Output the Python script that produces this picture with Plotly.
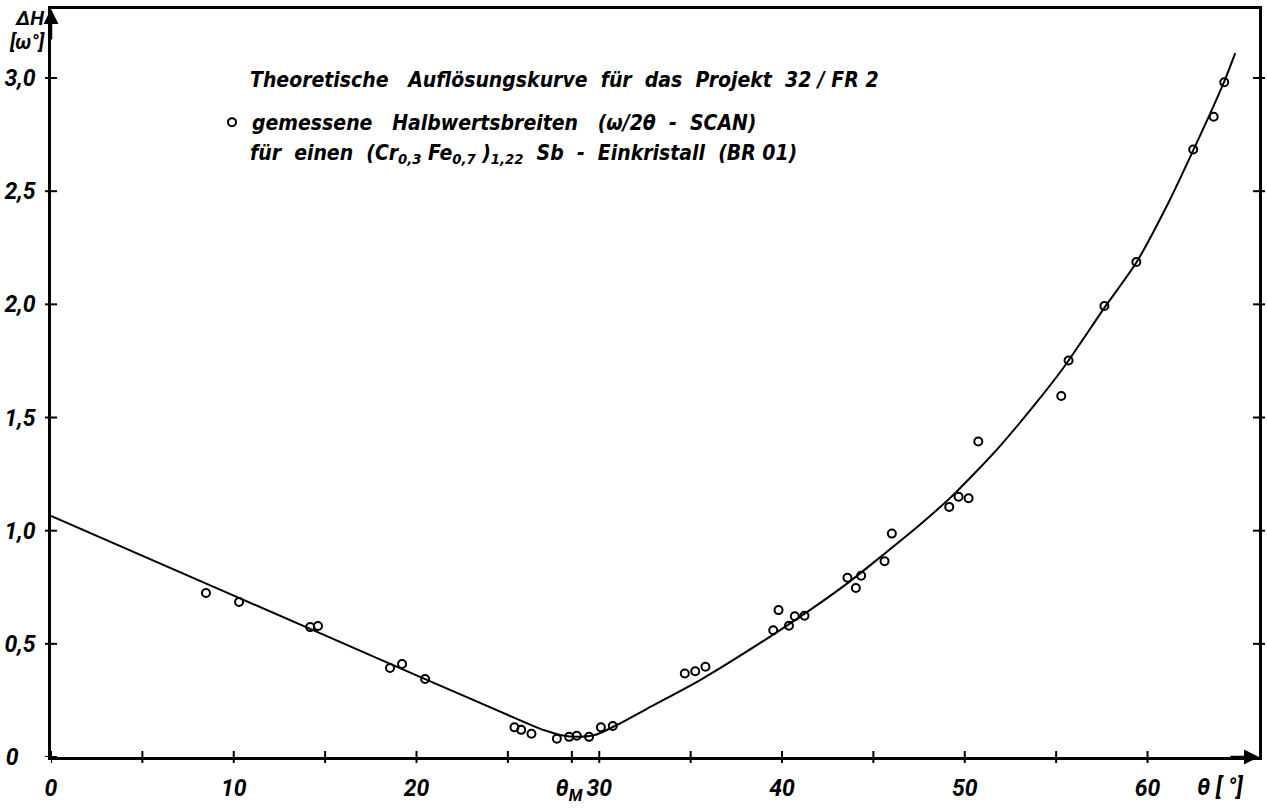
import plotly.graph_objects as go

# measured half widths (open circles)
meas_theta = [8.48, 10.29, 14.18, 14.61, 18.55, 19.21, 20.47, 25.36, 25.73, 26.29,
              27.68, 28.35, 28.77, 29.44, 30.09, 30.74, 34.68, 35.25, 35.81, 39.52,
              39.81, 40.38, 40.70, 41.23, 43.58, 44.04, 44.33, 45.61, 46.01, 49.15,
              49.66, 50.21, 50.74, 55.28, 55.68, 57.64, 59.39, 62.50, 63.62, 64.20]
meas_dH = [0.725, 0.685, 0.574, 0.579, 0.393, 0.411, 0.345, 0.131, 0.120, 0.103,
           0.081, 0.089, 0.094, 0.089, 0.131, 0.137, 0.369, 0.379, 0.399, 0.560,
           0.649, 0.580, 0.622, 0.624, 0.792, 0.747, 0.801, 0.865, 0.987, 1.105,
           1.150, 1.143, 1.394, 1.595, 1.752, 1.993, 2.187, 2.684, 2.829, 2.981]

# theoretical resolution curve
curve_theta = [0, 10, 20, 25.3, 27.0, 28.0, 29.0, 29.8, 31.14, 33.0, 35.52, 39.35,
               41.54, 43.7, 45.56, 47.38, 49.2, 50.67, 51.94, 53.76, 55.4, 57.6,
               59.39, 61.15, 62.5, 63.44, 64.2, 64.8]
curve_dH = [1.065, 0.713, 0.361, 0.175, 0.118, 0.095, 0.09, 0.098, 0.149, 0.23, 0.34,
            0.532, 0.65, 0.775, 0.895, 1.015, 1.145, 1.265, 1.375, 1.55, 1.72, 1.98,
            2.185, 2.45, 2.68, 2.845, 2.985, 3.11]

x_tickvals = [0, 10, 20, 28.5, 30, 40, 50, 60]
x_ticktext = ["0", "10", "20", "θ<sub>M</sub>\u00a0", "30", "40", "50", "60"]
x_minor = [5, 15, 25, 35, 45, 55]
y_tickvals = [0, 0.5, 1.0, 1.5, 2.0, 2.5, 3.0]
y_ticktext = ["0\u00a0\u00a0\u00a0", "0,5", "1,0", "1,5", "2,0", "2,5", "3,0"]

X_MAX = 66.1
Y_MAX = 3.305

# plot-area geometry in pixels (used only to place free texts)
L, R, T, B = 51, 8, 9, 54
W, H = 1267 - L - R, 811 - T - B


def px(x):
    return (x - L) / W


def py(y):
    return (811 - B - y) / H


TFONT = "Roboto, DejaVu Sans, sans-serif"
LFONT = "DejaVu Sans Condensed, DejaVu Sans, sans-serif"
tfont = dict(family=TFONT, size=23, color="black", weight="bold", style="italic")
lfont = dict(family=LFONT, size=21, color="black", weight="bold", style="italic")
afont = dict(family=TFONT, size=20, color="black", weight="bold", style="italic")

fig = go.Figure()
fig.add_trace(go.Scatter(
    x=curve_theta, y=curve_dH, mode="lines",
    line=dict(color="black", width=2, shape="spline", smoothing=0.6),
    showlegend=False, hoverinfo="skip"))
fig.add_trace(go.Scatter(
    x=meas_theta, y=meas_dH, mode="markers",
    marker=dict(symbol="circle-open", size=8, color="black", line=dict(width=2, color="black")),
    name="gemessene   Halbwertsbreiten   (ω/2θ  -  SCAN)", showlegend=True))

shapes = []
for v in x_tickvals + x_minor:
    shapes.append(dict(type="line", xref="x", yref="paper", x0=v, x1=v, y0=-0.008, y1=0.008,
                       line=dict(color="black", width=2)))
for v in y_tickvals:
    shapes.append(dict(type="line", xref="paper", yref="y", x0=-0.005, x1=0.005, y0=v, y1=v,
                       line=dict(color="black", width=2)))
for v in y_tickvals[1:]:
    shapes.append(dict(type="line", xref="paper", yref="y", x0=0.995, x1=1.005, y0=v, y1=v,
                       line=dict(color="black", width=2)))


def txt(x, y, text, font, xanchor="center"):
    return dict(x=px(x), y=py(y), xref="paper", yref="paper", text=text, showarrow=False,
                font=font, xanchor=xanchor, yanchor="middle")


annotations = [
    # axis arrows
    dict(x=0, y=Y_MAX, xref="x", yref="y", ax=0, ay=32, text="", showarrow=True,
         arrowhead=2, arrowsize=1.2, arrowwidth=2.5, arrowcolor="black"),
    dict(x=X_MAX, y=0, xref="x", yref="y", ax=-30, ay=0, text="", showarrow=True,
         arrowhead=2, arrowsize=1.2, arrowwidth=2.5, arrowcolor="black"),
    # axis titles
    txt(29, 18, "ΔH", afont),
    txt(27, 42, "[ω°]", afont),
    txt(1220, 787, "θ [ °]", tfont),
    # legend-like texts
    txt(248, 80, "Theoretische   Auflösungskurve  für  das  Projekt  32 / FR 2", lfont, "left"),
    txt(248, 154, "für  einen  (Cr<sub>0,3</sub> Fe<sub>0,7</sub> )<sub>1,22</sub>  Sb  -  Einkristall  (BR 01)",
        lfont, "left"),
]

fig.update_layout(
    width=1267, height=811,
    margin=dict(l=L, r=R, t=T, b=B, autoexpand=False),
    paper_bgcolor="white", plot_bgcolor="white",
    shapes=shapes, annotations=annotations,
    legend=dict(x=px(212), y=py(102), xanchor="left", yanchor="top",
                bgcolor="rgba(0,0,0,0)", font=lfont, borderwidth=0,
                itemwidth=30),
    xaxis=dict(range=[0, X_MAX], showline=True, linecolor="black", linewidth=2.5, mirror=True,
               showgrid=False, zeroline=False, ticks="", tickvals=x_tickvals,
               ticktext=x_ticktext, tickfont=tfont, ticklabelstandoff=9, tickangle=0,
               automargin=False),
    yaxis=dict(range=[0, Y_MAX], showline=True, linecolor="black", linewidth=2.5, mirror=True,
               showgrid=False, zeroline=False, ticks="", tickvals=y_tickvals,
               ticktext=y_ticktext, tickfont=tfont, ticklabelstandoff=8, automargin=False),
)

fig.write_html("out.html")
